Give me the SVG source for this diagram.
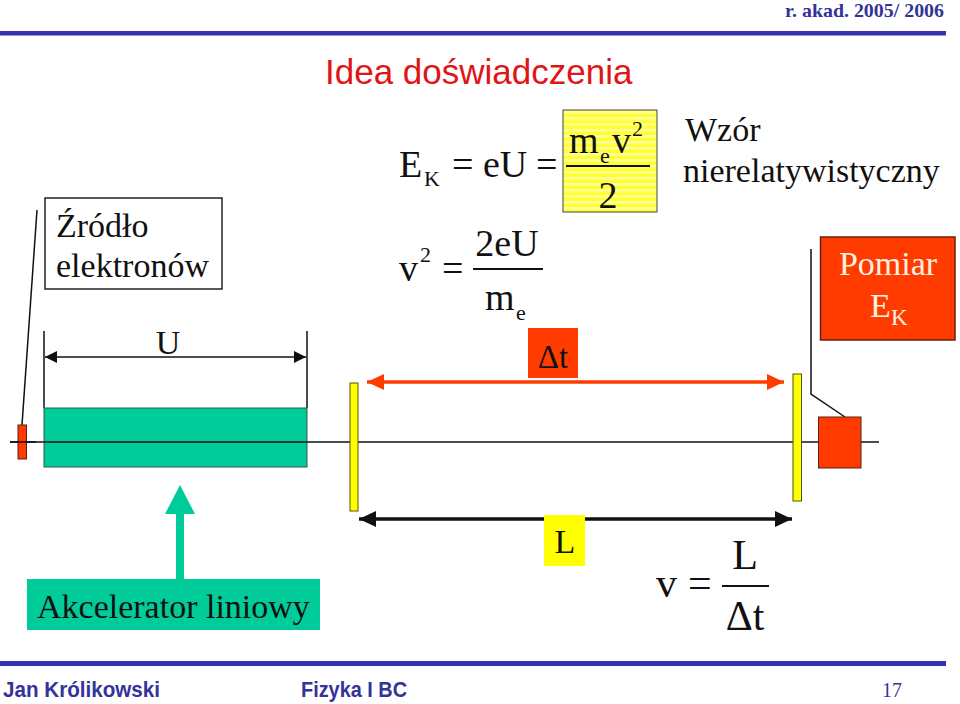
<svg xmlns="http://www.w3.org/2000/svg" width="960" height="704" viewBox="0 0 960 704">
<style>
text{font-family:"Liberation Serif","Times New Roman",serif;fill:#111}
.t34{font-size:34px}
.ln{stroke:#111;stroke-width:1.5;fill:none}
.fr{stroke:#111;stroke-width:2;fill:none}
.foot{font-family:"Liberation Sans",Arial,sans-serif;font-size:22px;font-weight:bold;fill:#33339a}
</style>
<defs>
<pattern id="stripes" width="6" height="6" patternUnits="userSpaceOnUse"><rect width="6" height="6" fill="#ffff33"/><rect y="3" width="6" height="2.5" fill="#ffff99"/></pattern>
<marker id="ab" markerUnits="userSpaceOnUse" markerWidth="12" markerHeight="12" refX="12" refY="6" orient="auto-start-reverse"><path d="M0 0L12 6L0 12Z" fill="#111"/></marker>
<marker id="ar" markerUnits="userSpaceOnUse" markerWidth="17" markerHeight="16" refX="17" refY="8" orient="auto-start-reverse"><path d="M0 0L17 8L0 16Z" fill="#ff3b00"/></marker>
<marker id="ak" markerUnits="userSpaceOnUse" markerWidth="17" markerHeight="16" refX="17" refY="8" orient="auto-start-reverse"><path d="M0 0L17 8L0 16Z" fill="#111"/></marker>
</defs>
<rect width="960" height="704" fill="#fff"/>
<g id="header">
<rect x="0" y="31" width="946" height="4.5" fill="#3333b0"/>
<text x="785" y="17" font-size="19" font-weight="bold" textLength="159" lengthAdjust="spacingAndGlyphs" style="fill:#33339a">r. akad. 2005/ 2006</text>
</g>
<g id="title"><text x="325" y="84" font-size="35" style="fill:#e01515;font-family:'Liberation Sans',sans-serif">Idea doświadczenia</text></g>
<g id="connectors">
<line class="ln" x1="10" y1="442" x2="879" y2="442"/>
<line class="ln" x1="37" y1="210" x2="22" y2="425"/>
<line class="ln" x1="44" y1="331" x2="44" y2="408"/>
<line class="ln" x1="307" y1="331" x2="307" y2="408"/>
<line class="ln" x1="45" y1="357" x2="306" y2="357" marker-start="url(#ab)" marker-end="url(#ab)"/>
<polyline class="ln" points="811,249 811,394 845,417"/>
<line x1="367" y1="382" x2="784" y2="382" stroke="#ff3b00" stroke-width="3.500" marker-start="url(#ar)" marker-end="url(#ar)"/>
<line x1="359" y1="519" x2="792" y2="519" stroke="#111" stroke-width="3.500" marker-start="url(#ak)" marker-end="url(#ak)"/>
<path d="M176 580V514H165L180 485L195 514H184V580Z" fill="#00cc99"/>
</g>
<g id="zrodlo-label"><rect x="45" y="198" width="177" height="91" fill="#fff" stroke="#222" stroke-width="1.500"/>
<text class="t34" x="56" y="237">Źródło</text><text class="t34" x="56" y="277">elektronów</text></g>
<g id="source"><rect x="18" y="425" width="8.500" height="34" fill="#ff3b00" stroke="#5a2010"/><line class="ln" x1="10" y1="442" x2="36" y2="442"/></g>
<g id="accelerator"><rect x="44" y="408" width="263" height="59" fill="#00cc99" stroke="#2a5a4a"/><line class="ln" x1="44" y1="442" x2="307" y2="442"/></g>
<g id="u-label"><text class="t34" x="168" y="354" text-anchor="middle">U</text></g>
<g id="plate-left"><rect x="350" y="383" width="8" height="128" fill="#ffff00" stroke="#555500"/></g>
<g id="plate-right"><rect x="793" y="374" width="8.500" height="127" fill="#ffff00" stroke="#555500"/></g>
<g id="detector"><rect x="818.500" y="417" width="42.500" height="51" fill="#ff3b00" stroke="#5a2010"/></g>
<g id="pomiar"><rect x="820.500" y="237" width="134.500" height="103" fill="#ff3b00" stroke="#6a2010" stroke-width="1.500"/>
<text class="t34" x="888" y="275" text-anchor="middle" style="fill:#fff0e0">Pomiar</text>
<text class="t34" x="870" y="317" style="fill:#fff0e0">E</text><text x="891" y="325" font-size="23" style="fill:#fff0e0">K</text></g>
<g id="dt-box"><rect x="528" y="328" width="50" height="50" fill="#ff3b00"/>
<text x="553" y="368" text-anchor="middle" font-size="33">Δt</text></g>
<g id="l-box"><rect x="544" y="515" width="41" height="51" fill="#ffff00"/><text class="t34" x="565" y="553" text-anchor="middle">L</text></g>
<g id="formula-ek">
<rect x="563" y="110" width="94" height="102" fill="url(#stripes)" stroke="#444" stroke-width="1"/>
<text x="399" y="177" font-size="38">E</text><text x="424" y="186" font-size="22">K</text>
<text x="452" y="177" font-size="38">=</text><text x="483" y="177" font-size="38">eU</text><text x="536" y="177" font-size="38">=</text>
<text x="569" y="153" font-size="38">m</text><text x="600" y="163" font-size="22">e</text><text x="612" y="153" font-size="38">v</text><text x="632" y="136" font-size="22">2</text>
<line class="fr" x1="566" y1="166" x2="650" y2="166"/>
<text x="608" y="208" font-size="38" text-anchor="middle">2</text>
</g>
<g id="formula-v2">
<text x="399" y="281" font-size="38">v</text><text x="420" y="262" font-size="22">2</text>
<text x="442" y="281" font-size="38">=</text>
<text x="507" y="256" font-size="38" text-anchor="middle">2eU</text>
<line class="fr" x1="473" y1="269" x2="543" y2="269"/>
<text x="485" y="310" font-size="38">m</text><text x="516" y="320" font-size="22">e</text>
</g>
<g id="wzor"><text class="t34" x="685" y="141">Wzór</text><text class="t34" x="683" y="182">nierelatywistyczny</text></g>
<g id="akcelerator-label"><rect x="27" y="579" width="293" height="51" fill="#00cc99"/><text class="t34" x="37" y="618">Akcelerator liniowy</text></g>
<g id="formula-vl">
<text x="656" y="597" font-size="42">v</text><text x="688" y="597" font-size="42">=</text>
<text x="745" y="569" font-size="42" text-anchor="middle">L</text>
<line class="fr" x1="722" y1="586" x2="769" y2="586"/>
<text x="745" y="630" font-size="42" text-anchor="middle">Δt</text>
</g>
<g id="footer">
<rect x="0" y="661" width="946" height="5" fill="#3333b0"/>
<text class="foot" x="3" y="697" textLength="157" lengthAdjust="spacingAndGlyphs">Jan Królikowski</text>
<text class="foot" x="301" y="697" textLength="106" lengthAdjust="spacingAndGlyphs">Fizyka I BC</text>
<text x="892" y="697" font-size="20" text-anchor="middle" style="fill:#33339a">17</text>
</g>
</svg>
